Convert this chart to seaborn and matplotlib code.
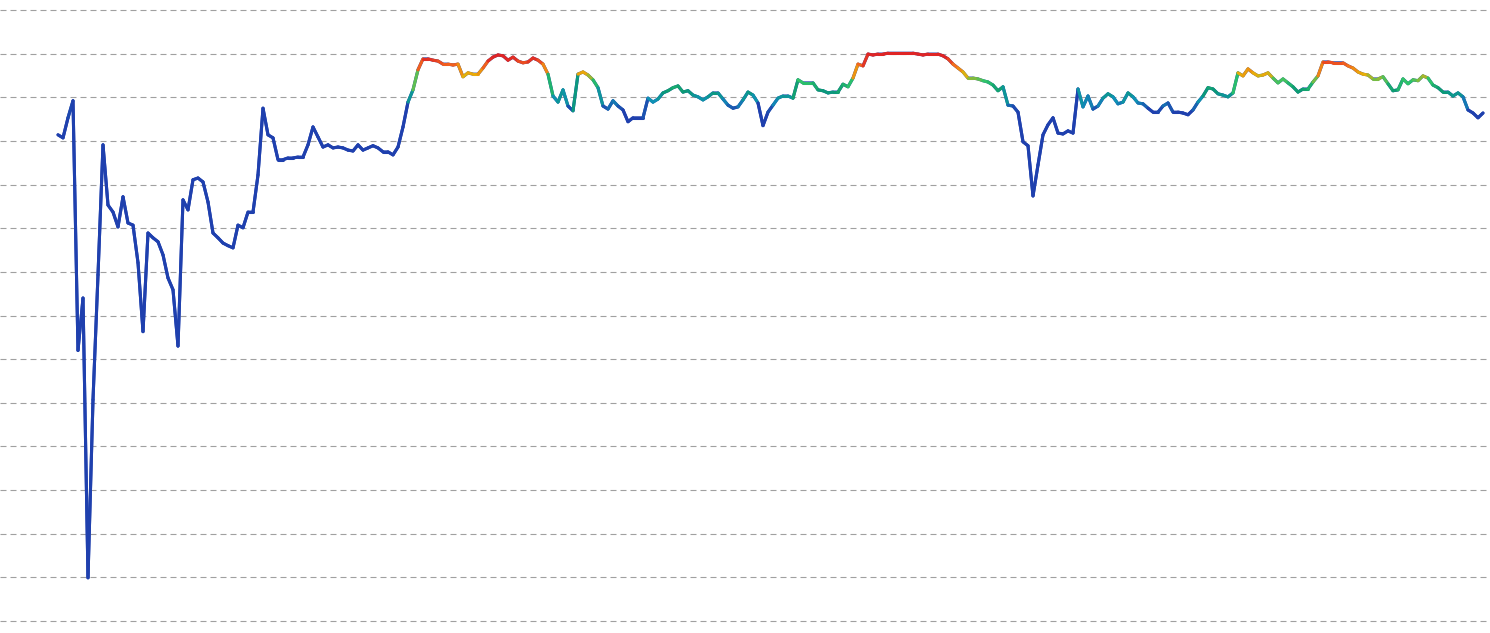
import numpy as np
import pandas as pd
import matplotlib
matplotlib.use("Agg")
import matplotlib.pyplot as plt
import seaborn as sns
from matplotlib.collections import LineCollection
from matplotlib.colors import LinearSegmentedColormap, Normalize

# values (one point per step)
values = [
    1114, 1107, 1153, 1192, 620, 740, 99, 507, 793, 1091,
    953, 937, 903, 972, 912, 907, 821, 663, 889, 878,
    869, 839, 786, 759, 630, 965, 942, 1011, 1015, 1006,
    960, 889, 878, 866, 860, 855, 907, 901, 937, 937,
    1022, 1175, 1114, 1107, 1057, 1057, 1061, 1061, 1063, 1063,
    1091, 1132, 1109, 1086, 1091, 1084, 1086, 1084, 1079, 1077,
    1091, 1079, 1084, 1089, 1084, 1075, 1075, 1068, 1086, 1132,
    1189, 1217, 1263, 1288, 1288, 1285, 1283, 1276, 1276, 1274,
    1276, 1247, 1256, 1253, 1253, 1267, 1283, 1292, 1297, 1295,
    1285, 1292, 1283, 1279, 1281, 1290, 1285, 1276, 1253, 1203,
    1189, 1217, 1180, 1169, 1253, 1258, 1251, 1240, 1222, 1180,
    1173, 1192, 1180, 1171, 1144, 1153, 1153, 1153, 1198, 1189,
    1196, 1210, 1215, 1222, 1226, 1212, 1215, 1205, 1201, 1194,
    1201, 1210, 1210, 1196, 1182, 1175, 1178, 1194, 1212, 1205,
    1187, 1135, 1166, 1182, 1198, 1203, 1203, 1198, 1240, 1233,
    1233, 1233, 1217, 1215, 1210, 1212, 1212, 1230, 1224, 1244,
    1276, 1272, 1299, 1297, 1299, 1299, 1301, 1301, 1301, 1301,
    1301, 1301, 1299, 1297, 1299, 1299, 1299, 1295, 1288, 1276,
    1267, 1258, 1244, 1244, 1242, 1238, 1235, 1228, 1215, 1224,
    1182, 1180, 1166, 1098, 1089, 974, 1045, 1114, 1137, 1153,
    1118, 1116, 1123, 1118, 1219, 1178, 1203, 1173, 1180, 1198,
    1208, 1201, 1185, 1189, 1210, 1201, 1187, 1185, 1175, 1166,
    1166, 1180, 1187, 1166, 1166, 1164, 1160, 1171, 1189, 1203,
    1222, 1219, 1208, 1205, 1201, 1210, 1256, 1249, 1265, 1256,
    1249, 1251, 1256, 1244, 1233, 1242, 1233, 1224, 1212, 1219,
    1219, 1235, 1249, 1281, 1281, 1279, 1279, 1279, 1272, 1267,
    1258, 1253, 1251, 1242, 1242, 1247, 1231, 1215, 1217, 1242,
    1231, 1240, 1238, 1249, 1244, 1228, 1222, 1212, 1212, 1203,
    1210, 1201, 1171, 1164, 1153, 1164,
]

# colour stops of the value scale
stop_values = [1170, 1193, 1215, 1236, 1252, 1273, 1290]
stop_colors = ["#1f40ae", "#0f93b5", "#0b9a72", "#2ec46a", "#e8b008", "#f56a1c", "#df2525"]

y_ticks = list(range(0, 1500, 100))

df = pd.DataFrame({"step": np.arange(len(values)), "value": values})

sns.set_theme(style="white")
fig = plt.figure(figsize=(14.9, 6.33), dpi=100)
ax = fig.add_axes([0.0, 12 / 633, 1487 / 1490, 611 / 633])

# base line
sns.lineplot(data=df, x="step", y="value", ax=ax, color=stop_colors[0], linewidth=2.2)

# coloured overlay by value
lo, hi = stop_values[0], stop_values[-1]
pos = [(v - lo) / (hi - lo) for v in stop_values]
cmap = LinearSegmentedColormap.from_list("vm", list(zip(pos, stop_colors)))
norm = Normalize(lo, hi, clip=True)
pts = df[["step", "value"]].to_numpy(dtype=float)
segs = np.stack([pts[:-1], pts[1:]], axis=1)
seg_vals = (pts[:-1, 1] + pts[1:, 1]) / 2
lc = LineCollection(segs, colors=cmap(norm(seg_vals)), linewidths=2.2, capstyle="round", joinstyle="round")
ax.add_collection(lc)

step_px = 5.0
ax.set_xlim(-58 / step_px, (1487 - 58) / step_px)
ax.set_ylim(0, 1400)
ax.set_yticks(y_ticks)
ax.yaxis.grid(True, color="#a0a0a0", linewidth=0.8, linestyle=(0, (5.4, 3.6)))
ax.xaxis.grid(False)
for gl in ax.get_ygridlines():
    gl.set_clip_on(False)
ax.set_axisbelow(True)
ax.tick_params(left=False, bottom=False, labelleft=False, labelbottom=False)
ax.set_xlabel("")
ax.set_ylabel("")
sns.despine(ax=ax, left=True, bottom=True)

fig.savefig("out.png", dpi=100, facecolor="white")
